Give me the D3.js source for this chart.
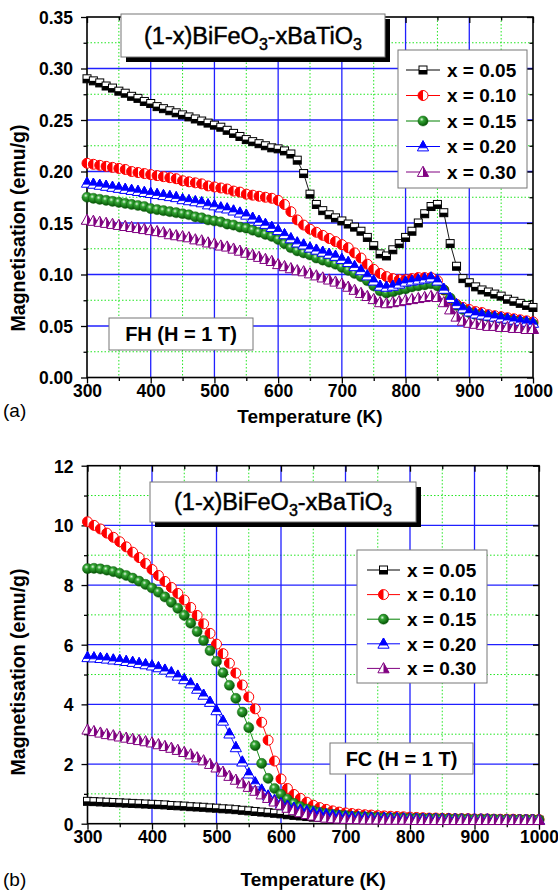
<!DOCTYPE html>
<html><head><meta charset="utf-8">
<script src="https://cdn.jsdelivr.net/npm/d3@7"></script>
<style>
body{margin:0;background:#fff}
svg{display:block}
text{font-family:"Liberation Sans",Arial,Helvetica,sans-serif;fill:#000}
</style>
</head><body>
<svg id="chart" width="558" height="892"></svg>
<script>
// ---------------- DATA ----------------
const temperature = [300,310,320,330,340,350,360,370,380,390,400,410,420,430,440,450,460,470,480,490,500,510,520,530,540,550,560,570,580,590,600,610,620,630,640,650,660,670,680,690,700,710,720,730,740,750,760,770,780,790,800,810,820,830,840,850,860,870,880,890,900,910,920,930,940,950,960,970,980,990,1000];

const seriesLabels = ["x = 0.05","x = 0.10","x = 0.15","x = 0.20","x = 0.30"];

// (a) FH, H = 1 T  (emu/g)
const fhX005 = [0.290,0.288,0.286,0.283,0.281,0.278,0.276,0.273,0.271,0.268,0.266,0.263,0.261,0.259,0.257,0.255,0.253,0.251,0.249,0.247,0.245,0.243,0.240,0.237,0.234,0.231,0.229,0.227,0.225,0.223,0.222,0.220,0.217,0.211,0.198,0.178,0.168,0.162,0.158,0.155,0.152,0.149,0.146,0.142,0.136,0.128,0.120,0.118,0.124,0.130,0.136,0.142,0.150,0.159,0.166,0.168,0.160,0.130,0.108,0.096,0.092,0.088,0.085,0.083,0.081,0.079,0.076,0.074,0.072,0.070,0.068];
const fhX010 = [0.208,0.207,0.206,0.205,0.204,0.203,0.202,0.200,0.199,0.198,0.197,0.196,0.195,0.194,0.193,0.191,0.190,0.189,0.188,0.186,0.185,0.184,0.183,0.181,0.180,0.178,0.177,0.176,0.175,0.174,0.172,0.168,0.161,0.153,0.148,0.144,0.141,0.138,0.135,0.132,0.129,0.126,0.121,0.116,0.110,0.105,0.101,0.098,0.096,0.095,0.095,0.096,0.097,0.097,0.097,0.094,0.085,0.076,0.071,0.068,0.066,0.064,0.063,0.061,0.060,0.059,0.058,0.057,0.056,0.055,0.054];
const fhX015 = [0.175,0.174,0.173,0.172,0.171,0.170,0.169,0.168,0.167,0.166,0.164,0.163,0.162,0.161,0.160,0.159,0.158,0.156,0.155,0.153,0.152,0.151,0.149,0.148,0.146,0.145,0.143,0.141,0.139,0.137,0.134,0.130,0.126,0.123,0.121,0.119,0.116,0.114,0.112,0.110,0.107,0.104,0.101,0.098,0.094,0.089,0.084,0.082,0.083,0.085,0.086,0.088,0.089,0.090,0.091,0.089,0.085,0.077,0.070,0.066,0.063,0.061,0.060,0.059,0.058,0.057,0.056,0.055,0.054,0.053,0.052];
const fhX020 = [0.189,0.188,0.187,0.186,0.185,0.184,0.183,0.182,0.181,0.180,0.179,0.178,0.177,0.176,0.175,0.173,0.172,0.171,0.170,0.168,0.167,0.165,0.164,0.162,0.160,0.158,0.155,0.152,0.149,0.146,0.143,0.139,0.135,0.131,0.129,0.126,0.124,0.122,0.120,0.118,0.115,0.112,0.108,0.104,0.099,0.094,0.089,0.088,0.089,0.091,0.093,0.094,0.095,0.096,0.097,0.094,0.086,0.077,0.071,0.067,0.064,0.062,0.061,0.060,0.059,0.058,0.057,0.056,0.055,0.054,0.053];
const fhX030 = [0.153,0.152,0.151,0.150,0.149,0.148,0.147,0.146,0.145,0.144,0.143,0.142,0.141,0.139,0.138,0.137,0.136,0.134,0.133,0.131,0.130,0.128,0.127,0.125,0.123,0.121,0.119,0.117,0.115,0.113,0.110,0.108,0.106,0.104,0.103,0.101,0.099,0.097,0.095,0.093,0.091,0.088,0.085,0.082,0.079,0.076,0.073,0.072,0.073,0.074,0.075,0.076,0.077,0.078,0.079,0.078,0.073,0.066,0.059,0.055,0.053,0.052,0.051,0.050,0.050,0.049,0.049,0.048,0.048,0.047,0.047];

// (b) FC, H = 1 T  (emu/g)
const fcX005 = [0.75,0.74,0.73,0.72,0.71,0.70,0.69,0.68,0.67,0.66,0.65,0.64,0.63,0.61,0.60,0.59,0.57,0.56,0.55,0.53,0.52,0.50,0.49,0.47,0.45,0.43,0.41,0.39,0.37,0.35,0.33,0.30,0.28,0.26,0.24,0.22,0.21,0.20,0.19,0.18,0.17,0.17,0.16,0.16,0.16,0.15,0.15,0.15,0.15,0.14,0.14,0.14,0.14,0.14,0.13,0.13,0.13,0.13,0.13,0.13,0.13,0.13,0.13,0.13,0.12,0.12,0.12,0.12,0.12,0.12,0.12];
const fcX010 = [10.12,10.00,9.88,9.74,9.60,9.45,9.28,9.10,8.92,8.72,8.52,8.32,8.12,7.92,7.72,7.50,7.25,6.98,6.70,6.38,6.02,5.70,5.38,5.05,4.65,4.25,3.85,3.40,2.80,2.10,1.50,1.18,0.98,0.85,0.72,0.62,0.54,0.48,0.43,0.39,0.36,0.34,0.32,0.30,0.29,0.27,0.26,0.25,0.24,0.23,0.22,0.21,0.20,0.19,0.19,0.18,0.18,0.17,0.17,0.17,0.16,0.16,0.16,0.15,0.15,0.15,0.15,0.14,0.14,0.14,0.14];
const fcX015 = [8.55,8.56,8.54,8.50,8.45,8.39,8.32,8.23,8.13,8.02,7.90,7.76,7.60,7.42,7.22,6.98,6.72,6.44,6.14,5.80,5.44,5.06,4.64,4.20,3.74,3.22,2.62,2.02,1.52,1.18,0.98,0.82,0.68,0.57,0.49,0.43,0.38,0.34,0.31,0.29,0.27,0.25,0.24,0.23,0.22,0.21,0.20,0.20,0.19,0.19,0.18,0.18,0.17,0.17,0.17,0.16,0.16,0.16,0.16,0.15,0.15,0.15,0.15,0.15,0.14,0.14,0.14,0.14,0.14,0.14,0.13];
const fcX020 = [5.58,5.57,5.55,5.53,5.50,5.48,5.45,5.42,5.38,5.34,5.30,5.24,5.16,5.07,4.96,4.84,4.70,4.52,4.32,4.08,3.80,3.45,3.02,2.56,2.08,1.68,1.38,1.14,0.94,0.79,0.68,0.60,0.53,0.47,0.42,0.38,0.34,0.31,0.28,0.26,0.24,0.23,0.22,0.21,0.20,0.19,0.19,0.18,0.18,0.17,0.17,0.16,0.16,0.16,0.15,0.15,0.15,0.15,0.14,0.14,0.14,0.14,0.14,0.13,0.13,0.13,0.13,0.13,0.13,0.13,0.13];
const fcX030 = [3.15,3.10,3.05,3.00,2.96,2.92,2.88,2.84,2.80,2.76,2.72,2.66,2.60,2.54,2.47,2.40,2.32,2.22,2.12,2.00,1.88,1.74,1.60,1.47,1.35,1.23,1.10,0.98,0.86,0.74,0.63,0.53,0.45,0.38,0.32,0.27,0.23,0.20,0.18,0.17,0.16,0.15,0.15,0.14,0.14,0.14,0.13,0.13,0.13,0.13,0.13,0.12,0.12,0.12,0.12,0.12,0.12,0.12,0.12,0.12,0.12,0.12,0.12,0.12,0.12,0.12,0.12,0.12,0.12,0.12,0.12];

// ticks
const xTickValues = [300,400,500,600,700,800,900,1000];
const xTickLabels = ["300","400","500","600","700","800","900","1000"];
const xMinorValues = [350,450,550,650,750,850,950];
const yTickValuesA = [0,0.05,0.10,0.15,0.20,0.25,0.30,0.35];
const yTickLabelsA = ["0.00","0.05","0.10","0.15","0.20","0.25","0.30","0.35"];
const yMinorValuesA = [0.025,0.075,0.125,0.175,0.225,0.275,0.325];
const yTickValuesB = [0,2,4,6,8,10,12];
const yTickLabelsB = ["0","2","4","6","8","10","12"];
const yMinorValuesB = [1,3,5,7,9,11];

const titleParts = [["(1-x)BiFeO",false],["3",true],["-xBaTiO",false],["3",true]];
const xTitle = "Temperature (K)";
const yTitle = "Magnetisation (emu/g)";

// ---------------- STYLE ----------------
const seriesColors = ["#000000","#ff0000","#008000","#0000ff","#800080"];
const seriesKinds = ["squareB","circleL","sphere","triTop","triRight"];

const svg = d3.select("#chart");
const defs = svg.append("defs");
const grad = defs.append("radialGradient").attr("id","sphere").attr("cx","38%").attr("cy","34%").attr("r","70%");
grad.append("stop").attr("offset","0%").attr("stop-color","#e4f7e4");
grad.append("stop").attr("offset","28%").attr("stop-color","#34a534");
grad.append("stop").attr("offset","100%").attr("stop-color","#004d00");

function marker(g, kind, color){
  if(kind==="squareB"){
    g.append("rect").attr("x",-4).attr("y",-4).attr("width",8).attr("height",8).attr("fill","#fff").attr("stroke",color).attr("stroke-width",1);
    g.append("rect").attr("x",-4).attr("y",0).attr("width",8).attr("height",4).attr("fill",color);
  } else if(kind==="circleL"){
    g.append("circle").attr("r",5).attr("fill","#fff").attr("stroke",color).attr("stroke-width",1);
    g.append("path").attr("d","M0,-5A5,5 0 0 0 0,5Z").attr("fill",color);
  } else if(kind==="sphere"){
    g.append("circle").attr("r",5.1).attr("fill","url(#sphere)").attr("stroke","#0a5a0a").attr("stroke-width",0.4);
  } else if(kind==="triTop"){
    g.append("path").attr("d","M0,-5.8L5.6,4.4L-5.6,4.4Z").attr("fill","#fff").attr("stroke",color).attr("stroke-width",1);
    g.append("path").attr("d","M0,-5.8L3.9,1.3L-3.9,1.3Z").attr("fill",color).attr("stroke",color).attr("stroke-width",0.8);
  } else if(kind==="triRight"){
    g.append("path").attr("d","M0,-5.8L5.6,4.4L-5.6,4.4Z").attr("fill","#fff").attr("stroke",color).attr("stroke-width",1);
    g.append("path").attr("d","M0,-5.8L5.6,4.4L0,4.4Z").attr("fill",color);
  }
}

function panel(cfg){
  const g = svg.append("g");
  const x = d3.scaleLinear().domain([300,1000]).range([cfg.left,cfg.right]);
  const y = d3.scaleLinear().domain(cfg.yDomain).range([cfg.bottom,cfg.top]);

  // minor grid (green dotted)
  const grid = g.append("g");
  grid.selectAll(".gxm").data(xMinorValues).join("line")
    .attr("x1",d=>x(d)).attr("x2",d=>x(d)).attr("y1",cfg.top).attr("y2",cfg.bottom)
    .attr("stroke","#22e622").attr("stroke-width",1).attr("stroke-dasharray","1.5,2");
  grid.selectAll(".gym").data(cfg.yMinor).join("line")
    .attr("y1",d=>y(d)).attr("y2",d=>y(d)).attr("x1",cfg.left).attr("x2",cfg.right)
    .attr("stroke","#22e622").attr("stroke-width",1).attr("stroke-dasharray","1.5,2");
  // major grid (blue)
  grid.selectAll(".gx").data(xTickValues.slice(1,-1)).join("line")
    .attr("x1",d=>x(d)).attr("x2",d=>x(d)).attr("y1",cfg.top).attr("y2",cfg.bottom)
    .attr("stroke","#2020ff").attr("stroke-width",1.3);
  grid.selectAll(".gy").data(cfg.yTicks.slice(1,-1)).join("line")
    .attr("y1",d=>y(d)).attr("y2",d=>y(d)).attr("x1",cfg.left).attr("x2",cfg.right)
    .attr("stroke","#2020ff").attr("stroke-width",1.3);

  // axes
  const fmtX = d=>xTickLabels[xTickValues.indexOf(d)];
  const fmtY = d=>cfg.yLabels[cfg.yTicks.indexOf(d)];
  const ax = g.append("g").attr("transform",`translate(0,${cfg.bottom})`)
    .call(d3.axisBottom(x).tickValues(xTickValues).tickFormat(fmtX).tickSize(6).tickPadding(4));
  g.append("g").attr("transform",`translate(0,${cfg.bottom})`)
    .call(d3.axisBottom(x).tickValues(xMinorValues).tickFormat("").tickSize(3.5));
  const ay = g.append("g").attr("transform",`translate(${cfg.left},0)`)
    .call(d3.axisLeft(y).tickValues(cfg.yTicks).tickFormat(fmtY).tickSize(6).tickPadding(8));
  g.append("g").attr("transform",`translate(${cfg.left},0)`)
    .call(d3.axisLeft(y).tickValues(cfg.yMinor).tickFormat("").tickSize(3.5));
  g.append("g").attr("transform",`translate(0,${cfg.top})`)
    .call(d3.axisBottom(x).tickValues(xTickValues).tickFormat("").tickSize(6));
  g.append("g").attr("transform",`translate(0,${cfg.top})`)
    .call(d3.axisBottom(x).tickValues(xMinorValues).tickFormat("").tickSize(3.5));
  g.append("g").attr("transform",`translate(${cfg.right},0)`)
    .call(d3.axisLeft(y).tickValues(cfg.yTicks).tickFormat("").tickSize(6));
  g.append("g").attr("transform",`translate(${cfg.right},0)`)
    .call(d3.axisLeft(y).tickValues(cfg.yMinor).tickFormat("").tickSize(3.5));
  g.selectAll(".domain").remove();
  g.selectAll(".tick line").attr("stroke","#000").attr("stroke-width",1.3);
  ax.selectAll("text").style("font-size","17.5px").style("font-weight","bold").attr("dy",null).attr("y",cfg.xLabelOffset);
  ay.selectAll("text").style("font-size","17.5px").style("font-weight","bold").attr("dy","0.36em");
  g.selectAll(".tick text").attr("font-family",null);

  // frame
  g.append("rect").attr("x",cfg.left).attr("y",cfg.top).attr("width",cfg.right-cfg.left).attr("height",cfg.bottom-cfg.top)
    .attr("fill","none").attr("stroke","#000").attr("stroke-width",1.6);

  // series
  const line = d3.line().x((d,i)=>x(temperature[i])).y(d=>y(d));
  cfg.series.forEach((vals,k)=>{
    g.append("path").attr("d",line(vals)).attr("fill","none").attr("stroke",seriesColors[k]).attr("stroke-width",0.9);
    const mg = g.append("g");
    vals.forEach((v,i)=>{
      const m = mg.append("g").attr("transform",`translate(${x(temperature[i])},${y(v)})`);
      marker(m, seriesKinds[k], seriesColors[k]);
    });
  });

  // title box with shadow
  const tb = cfg.titleBox;
  g.append("rect").attr("x",tb.x+5).attr("y",tb.y+5).attr("width",tb.w).attr("height",tb.h).attr("fill","#000");
  g.append("rect").attr("x",tb.x).attr("y",tb.y).attr("width",tb.w).attr("height",tb.h).attr("fill","#fff").attr("stroke","#777").attr("stroke-width",1);
  const tt = g.append("text").attr("x",tb.x+tb.w/2).attr("y",tb.y+tb.base).attr("text-anchor","middle")
    .style("font-size","23.5px").attr("stroke","#000").attr("stroke-width",0.45);
  titleParts.forEach(([s,sub],i)=>{
    const sp = tt.append("tspan").text(s);
    if(sub) sp.attr("dy",6).style("font-size","16px"); else if(i>0) sp.attr("dy",-6);
  });

  // legend
  const lg = cfg.legend;
  g.append("rect").attr("x",lg.x).attr("y",lg.y).attr("width",lg.w).attr("height",lg.h).attr("fill","#fff").attr("stroke","#777").attr("stroke-width",1);
  seriesLabels.forEach((lab,k)=>{
    const yy = lg.row0 + k*lg.step;
    g.append("line").attr("x1",lg.lx1).attr("x2",lg.lx2).attr("y1",yy).attr("y2",yy).attr("stroke",seriesColors[k]).attr("stroke-width",1);
    const m = g.append("g").attr("transform",`translate(${(lg.lx1+lg.lx2)/2},${yy})`);
    marker(m, seriesKinds[k], seriesColors[k]);
    g.append("text").attr("x",lg.tx).attr("y",yy).attr("dy","0.36em").style("font-size","19px").style("font-weight","bold").text(lab);
  });

  // note box
  const nb = cfg.note;
  g.append("rect").attr("x",nb.x).attr("y",nb.y).attr("width",nb.w).attr("height",nb.h).attr("fill","#fff").attr("stroke","#777").attr("stroke-width",1);
  g.append("text").attr("x",nb.x+nb.w/2).attr("y",nb.y+nb.h/2).attr("dy","0.36em").attr("text-anchor","middle")
    .style("font-size","20px").style("font-weight","bold").text(nb.text);

  // axis titles
  g.append("text").attr("x",(cfg.left+cfg.right)/2).attr("y",cfg.xTitleY).attr("text-anchor","middle")
    .style("font-size","19px").style("font-weight","bold").text(xTitle);
  g.append("text").attr("transform",`translate(${cfg.yTitleX},${cfg.yTitleCY}) rotate(-90)`).attr("text-anchor","middle")
    .style("font-size","19.5px").style("font-weight","bold").text(yTitle);
  // panel letter
  g.append("text").attr("x",3).attr("y",cfg.letterY).style("font-size","19px").text(cfg.letter);
}

panel({
  left:87, right:533, top:17, bottom:377.5, yDomain:[0,0.35],
  yTicks:yTickValuesA, yLabels:yTickLabelsA, yMinor:yMinorValuesA,
  xLabelOffset:19, xTitleY:423, yTitleX:25, yTitleCY:228, letter:"(a)", letterY:417,
  series:[fhX005,fhX010,fhX015,fhX020,fhX030],
  titleBox:{x:121,y:14,w:264,h:43,base:30},
  legend:{x:398,y:50,w:129,h:138,row0:70,step:25.5,lx1:406,lx2:440,tx:447},
  note:{x:109,y:318,w:144,h:32,text:"FH (H = 1 T)"}
});
panel({
  left:87.5, right:539, top:465.7, bottom:823.7, yDomain:[0,12],
  yTicks:yTickValuesB, yLabels:yTickLabelsB, yMinor:yMinorValuesB,
  xLabelOffset:19, xTitleY:886, yTitleX:25, yTitleCY:672, letter:"(b)", letterY:886,
  series:[fcX005,fcX010,fcX015,fcX020,fcX030],
  titleBox:{x:150,y:482,w:266,h:40,base:28},
  legend:{x:357,y:550,w:130,h:133,row0:570,step:24.6,lx1:367,lx2:400,tx:407},
  note:{x:330,y:743,w:143,h:31,text:"FC (H = 1 T)"}
});
</script>
</body></html>
